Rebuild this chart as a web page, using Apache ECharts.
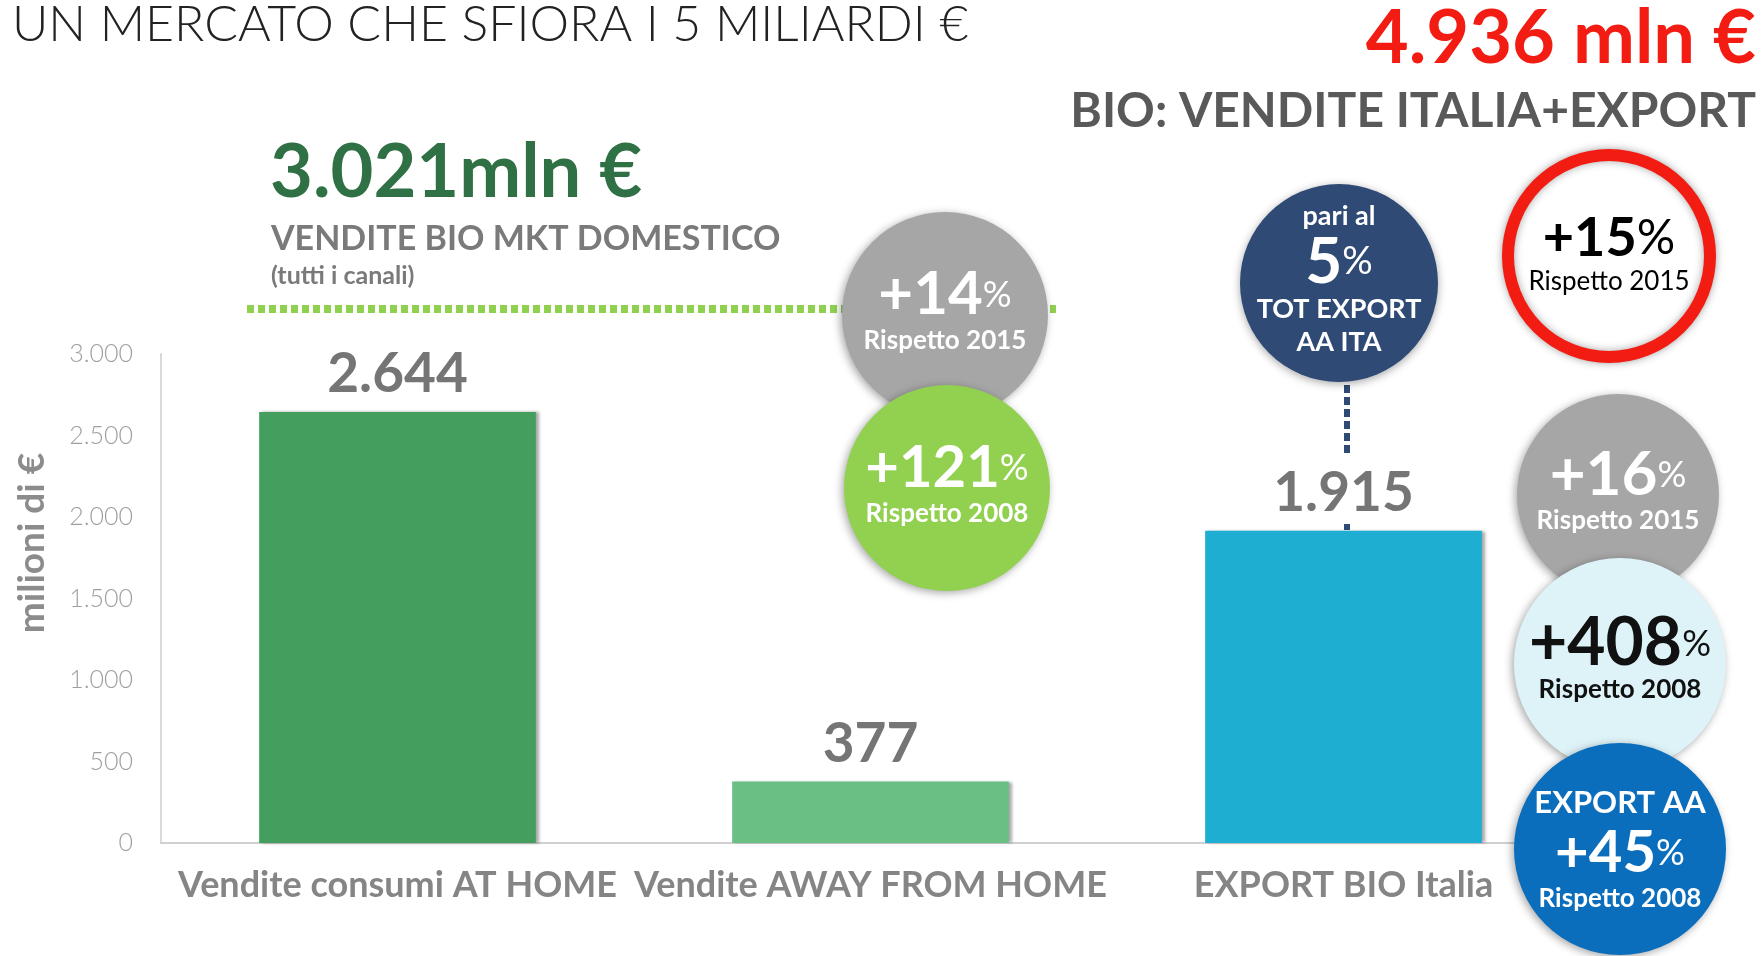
<!DOCTYPE html>
<html>
<head>
<meta charset="utf-8">
<script src="https://cdn.jsdelivr.net/npm/echarts@6/dist/echarts.min.js"></script>
<style>
  html, body { margin: 0; padding: 0; background: #ffffff; }
  #chart { width: 1764px; height: 956px; }
</style>
</head>
<body>
<div id="chart"></div>
<script>
// dati del grafico
const categories = ['Vendite consumi AT HOME', 'Vendite AWAY FROM HOME', 'EXPORT BIO Italia']
const values = [2644, 377, 1915]
const barColors = ['#449f5f', '#6abf85', '#1eaed1']
const yTicks = [0, 500, 1000, 1500, 2000, 2500, 3000]

// bolle con le variazioni
const bubbleMain = ['+14', '+121', '+16', '+408', '+45', '+15']
const bubbleSub = ['Rispetto 2015', 'Rispetto 2008', 'Rispetto 2015', 'Rispetto 2008', 'Rispetto 2008', 'Rispetto 2015']

const FONT = 'Lato'

function fmt (v) {
  return String(v).replace(/\B(?=(\d{3})+(?!\d))/g, '.')
}

function bubble (cx, cy, r, fill, textColor, i, extra, big) {
  const top = extra ? '{e|' + extra + '}\n' : ''
  const size = big || 56
  return [
    {
      type: 'circle',
      shape: { cx: cx, cy: cy, r: r },
      style: { fill: fill, shadowBlur: 8, shadowColor: 'rgba(0,0,0,0.35)', shadowOffsetX: -2, shadowOffsetY: 2 },
      z: 10 + i * 2
    },
    {
      type: 'text',
      x: cx,
      y: cy + (extra ? 0 : -4),
      style: {
        text: top + '{a|' + bubbleMain[i] + '}{b|%}\n{c|' + bubbleSub[i] + '}',
        align: 'center',
        verticalAlign: 'middle',
        fill: textColor,
        rich: {
          e: { fontFamily: FONT, fontSize: 31, fontWeight: 'bold', fill: textColor, lineHeight: 40 },
          a: { fontFamily: FONT, fontSize: size, fontWeight: 'bold', fill: textColor, lineHeight: 60 },
          b: { fontFamily: FONT, fontSize: 36, fill: textColor, lineHeight: 60 },
          c: { fontFamily: FONT, fontSize: 26, fontWeight: 'bold', fill: textColor, lineHeight: 32 }
        }
      },
      z: 11 + i * 2
    }
  ]
}

const chart = echarts.init(document.getElementById('chart'))

const graphics = [
  {
    type: 'text', left: 12, top: 0,
    style: { text: 'UN MERCATO CHE SFIORA I 5 MILIARDI €', fontFamily: FONT, fontWeight: 300, fontSize: 50, fill: '#222222' }
  },
  {
    type: 'text', right: 8, top: 2,
    style: { text: '4.936 mln €', fontFamily: FONT, fontWeight: 'bold', fontSize: 74, fill: '#f21c12' }
  },
  {
    type: 'text', right: 8, top: 88,
    style: { text: 'BIO: VENDITE ITALIA+EXPORT', fontFamily: FONT, fontWeight: 'bold', fontSize: 48, fill: '#595959' }
  },
  {
    type: 'text', left: 270, top: 136,
    style: { text: '3.021mln €', fontFamily: FONT, fontWeight: 'bold', fontSize: 74, fill: '#2f7044' }
  },
  {
    type: 'text', left: 271, top: 222,
    style: { text: 'VENDITE BIO MKT DOMESTICO', fontFamily: FONT, fontWeight: 'bold', fontSize: 34, fill: '#7a7a7a' }
  },
  {
    type: 'text', left: 271, top: 263,
    style: { text: '(tutti i canali)', fontFamily: FONT, fontWeight: 'bold', fontSize: 25, fill: '#7a7a7a' }
  },
  {
    type: 'text', x: 32, y: 543, rotation: Math.PI / 2,
    style: { text: 'milioni di €', align: 'center', verticalAlign: 'middle', fontFamily: FONT, fontWeight: 'bold', fontSize: 37, fill: '#8c8c8c' }
  },
  {
    type: 'line',
    shape: { x1: 247, y1: 309, x2: 1056, y2: 309 },
    style: { stroke: '#8fd14f', lineWidth: 8, lineDash: [7, 4] },
    z: 5
  },
  {
    type: 'line',
    shape: { x1: 1347, y1: 385, x2: 1347, y2: 454 },
    style: { stroke: '#2e4a75', lineWidth: 6, lineDash: [8, 4] },
    z: 5
  },
  {
    type: 'line',
    shape: { x1: 1347, y1: 524, x2: 1347, y2: 530 },
    style: { stroke: '#2e4a75', lineWidth: 6 },
    z: 5
  },
  // bolla "pari al 5%"
  {
    type: 'circle',
    shape: { cx: 1339, cy: 283, r: 99 },
    style: { fill: '#2e4a75', shadowBlur: 8, shadowColor: 'rgba(0,0,0,0.35)', shadowOffsetY: 2 },
    z: 10
  },
  {
    type: 'text', x: 1339, y: 280,
    style: {
      text: '{p|pari al}\n{a|5}{b|%}\n{c|TOT EXPORT}\n{c|AA ITA}',
      align: 'center',
      verticalAlign: 'middle',
      rich: {
        p: { fontFamily: FONT, fontSize: 27, fontWeight: 'bold', fill: '#ffffff', lineHeight: 30 },
        a: { fontFamily: FONT, fontSize: 64, fontWeight: 'bold', fill: '#ffffff', lineHeight: 62 },
        b: { fontFamily: FONT, fontSize: 38, fill: '#ffffff', lineHeight: 62 },
        c: { fontFamily: FONT, fontSize: 27, fontWeight: 'bold', fill: '#ffffff', lineHeight: 33 }
      }
    },
    z: 11
  },
  // anello rosso
  {
    type: 'circle',
    shape: { cx: 1609, cy: 256, r: 101 },
    style: { fill: '#ffffff', stroke: '#f21c12', lineWidth: 12, shadowBlur: 8, shadowColor: 'rgba(0,0,0,0.35)' },
    z: 10
  }
]

graphics.push(...bubble(945, 315, 103, '#a6a6a6', '#ffffff', 0, null, 60))
graphics.push(...bubble(947, 488, 103, '#92d050', '#ffffff', 1, null, 58))
graphics.push(...bubble(1618, 495, 101, '#a6a6a6', '#ffffff', 2, null, 62))
graphics.push(...bubble(1620, 664, 106, '#def3f8', '#111111', 3, null, 66))
graphics.push(...bubble(1620, 849, 106, '#0a6ebd', '#ffffff', 4, 'EXPORT AA', 58))
graphics.push({
  type: 'text', x: 1609, y: 254,
  style: {
    text: '{a|+15}{b|%}\n{c|Rispetto 2015}',
    align: 'center',
    verticalAlign: 'middle',
    rich: {
      a: { fontFamily: FONT, fontSize: 54, fontWeight: 'bold', fill: '#000000', lineHeight: 56 },
      b: { fontFamily: FONT, fontSize: 48, fill: '#000000', lineHeight: 56 },
      c: { fontFamily: FONT, fontSize: 26, fill: '#000000', lineHeight: 30 }
    }
  },
  z: 30
})

const option = {
  animation: false,
  textStyle: { fontFamily: FONT },
  grid: { left: 161, right: 184, top: 354, bottom: 113 },
  xAxis: {
    type: 'category',
    data: categories,
    axisLine: { lineStyle: { color: '#d0d0d0', width: 2 } },
    axisTick: { show: false },
    axisLabel: {
      interval: 0,
      margin: 24,
      fontSize: 36,
      fontWeight: 'bold',
      color: '#858585'
    }
  },
  yAxis: {
    type: 'value',
    min: 0,
    max: 3000,
    interval: 500,
    axisLine: { show: true, lineStyle: { color: '#d9d9d9', width: 2 } },
    axisTick: { show: false },
    splitLine: { show: false },
    axisLabel: {
      margin: 28,
      fontSize: 25,
      fontWeight: 300,
      color: '#9f9f9f',
      formatter: v => yTicks.includes(v) ? fmt(v) : ''
    }
  },
  series: [
    {
      type: 'bar',
      barWidth: '58.5%',
      data: values.map((v, i) => ({ value: v, itemStyle: { color: barColors[i] } })),
      itemStyle: { shadowColor: 'rgba(0,0,0,0.35)', shadowBlur: 3, shadowOffsetX: 3 },
      label: {
        show: true,
        position: 'top',
        distance: 10,
        fontSize: 55,
        fontWeight: 'bold',
        color: '#757575',
        formatter: p => fmt(p.value)
      }
    }
  ],
  graphic: graphics
}

chart.setOption(option)
</script>
</body>
</html>
